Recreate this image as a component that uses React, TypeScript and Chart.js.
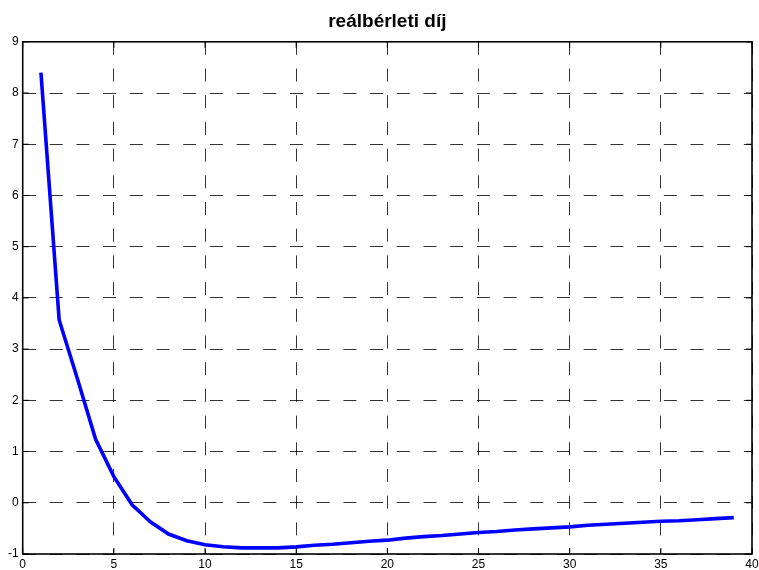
import React, { useEffect, useRef } from "react";
import { Chart, registerables, Plugin } from "chart.js";

Chart.register(...registerables);

// Period index (horizontal axis)
const periods: number[] = [
  1, 2, 3, 4, 5, 6, 7, 8, 9, 10,
  11, 12, 13, 14, 15, 16, 17, 18, 19, 20,
  21, 22, 23, 24, 25, 26, 27, 28, 29, 30,
  31, 32, 33, 34, 35, 36, 37, 38, 39,
];

// Real rental fee response
const rentValues: number[] = [
  8.4, 3.57, 2.42, 1.24, 0.51, -0.04, -0.37, -0.61, -0.74, -0.82,
  -0.86, -0.88, -0.88, -0.88, -0.86, -0.83, -0.81, -0.78, -0.75, -0.73,
  -0.69, -0.66, -0.64, -0.61, -0.58, -0.56, -0.53, -0.51, -0.49, -0.47,
  -0.44, -0.42, -0.4, -0.38, -0.36, -0.35, -0.33, -0.31, -0.29,
];

const titleText = "reálbérleti díj";
const xTicks = { min: 0, max: 40, step: 5 };
const yTicks = { min: -1, max: 9, step: 1 };

// Closed axes box with inward tick marks on all four sides
const boxPlugin: Plugin = {
  id: "axesBox",
  afterDatasetsDraw(chart) {
    const { ctx, chartArea } = chart;
    const { left, right, top, bottom } = chartArea;
    const xs = chart.scales.x;
    const ys = chart.scales.y;
    const tick = 6;
    ctx.save();
    ctx.strokeStyle = "#000";
    ctx.lineWidth = 1;
    ctx.beginPath();
    for (let v = xTicks.min; v <= xTicks.max; v += xTicks.step) {
      const px = xs.getPixelForValue(v);
      ctx.moveTo(px, bottom);
      ctx.lineTo(px, bottom - tick);
      ctx.moveTo(px, top);
      ctx.lineTo(px, top + tick);
    }
    for (let v = yTicks.min; v <= yTicks.max; v += yTicks.step) {
      const py = ys.getPixelForValue(v);
      ctx.moveTo(left, py);
      ctx.lineTo(left + tick, py);
      ctx.moveTo(right, py);
      ctx.lineTo(right - tick, py);
    }
    ctx.stroke();
    ctx.lineWidth = 1.6;
    ctx.strokeRect(left, top, right - left, bottom - top);
    ctx.restore();
  },
};

export default function App() {
  const canvasRef = useRef<HTMLCanvasElement | null>(null);

  useEffect(() => {
    const canvas = canvasRef.current;
    if (!canvas) return;
    const chart = new Chart(canvas, {
      type: "line",
      data: {
        datasets: [
          {
            data: periods.map((p, i) => ({ x: p, y: rentValues[i] })),
            borderColor: "#0000ff",
            borderWidth: 3.6,
            pointRadius: 0,
            tension: 0,
            fill: false,
          },
        ],
      },
      options: {
        animation: false,
        responsive: false,
        maintainAspectRatio: false,
        layout: { padding: { left: 0, right: 7, top: 0, bottom: 0 } },
        plugins: {
          legend: { display: false },
          tooltip: { enabled: false },
          title: {
            display: true,
            text: titleText,
            fullSize: false,
            color: "#000",
            font: { family: "'Liberation Sans', Arial, sans-serif", size: 19, weight: "bold" },
            padding: { top: 10, bottom: 9 },
          },
        },
        scales: {
          x: {
            type: "linear",
            min: xTicks.min,
            max: xTicks.max,
            afterFit: (scale: any) => {
              scale.height = 16;
              scale.paddingLeft = 0;
              scale.paddingRight = 0;
            },
            ticks: {
              stepSize: xTicks.step,
              color: "#000",
              padding: 3,
              maxRotation: 0,
              font: { family: "'Liberation Sans', Arial, sans-serif", size: 12 },
            },
            grid: {
              color: "rgba(0,0,0,0.8)",
              lineWidth: 1,
              drawTicks: false,
            },
            border: { display: false, dash: [13, 13.7] },
          },
          y: {
            type: "linear",
            min: yTicks.min,
            max: yTicks.max,
            afterFit: (scale: any) => {
              scale.width = 22.7;
              scale.paddingTop = 0;
              scale.paddingBottom = 0;
            },
            ticks: {
              stepSize: yTicks.step,
              color: "#000",
              padding: 4,
              font: { family: "'Liberation Sans', Arial, sans-serif", size: 12 },
            },
            grid: {
              color: "rgba(0,0,0,0.8)",
              lineWidth: 1,
              drawTicks: false,
            },
            border: { display: false, dash: [13, 13.7] },
          },
        },
      },
      plugins: [boxPlugin],
    });
    return () => chart.destroy();
  }, []);

  return (
    <div style={{ position: "absolute", left: 0, top: 0, width: 759, height: 570, background: "#fff" }}>
      <canvas ref={canvasRef} width={759} height={570} style={{ display: "block" }} />
    </div>
  );
}
